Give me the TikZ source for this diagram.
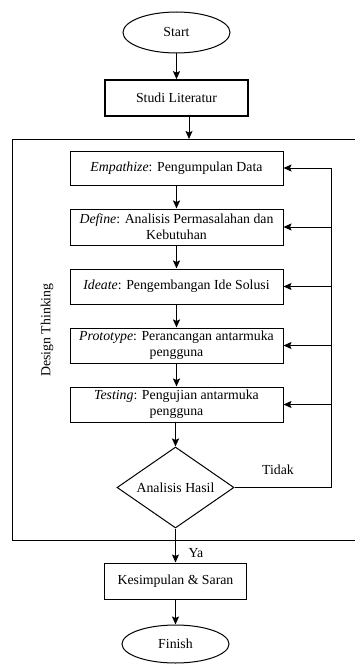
\documentclass[tikz,border=0pt]{standalone}
\usepackage{fontspec}
\setmainfont{Liberation Serif}
\usetikzlibrary{shapes.geometric, positioning, arrows.meta}
\tikzset{%
  node distance=24pt,
  every node/.style={
    font=\fontsize{13.8}{16}\selectfont},
  stepbox/.style={
    draw, rectangle, line width=1pt, align=center,
    minimum width=213pt, minimum height=35pt, inner sep=1pt},
  terminal/.style={
    draw, ellipse, line width=1pt,
    minimum width=107pt, minimum height=40pt, inner sep=0pt},
  decision/.style={
    draw, diamond, line width=1pt, shape aspect=1.45,
    minimum width=117pt, minimum height=81pt, inner sep=0pt},
  every edge/.style={
    draw,
    -{Stealth[length=8pt, width=7pt, inset=1.5pt]},
    line width=1pt}, %
  flow/.style={line width=1.8pt}
}

\begin{document}
\begin{tikzpicture}
    \useasboundingbox (0,0) rectangle (355pt,-666pt);

    \node[terminal, minimum height=41pt] (start) at (176.5pt,-32.5pt) {Start};
    \node[stepbox, minimum width=143pt, minimum height=36pt, line width=1.6pt] (studi) at (176.5pt,-98pt) {Studi Literatur};

    \node[stepbox, minimum height=34pt] (empathize) at (176.5pt,-168pt) {\textit{Empathize}: Pengumpulan Data};
    \node[stepbox, minimum height=36pt] (define) at (176.5pt,-227pt) {\textit{Define}: Analisis Permasalahan dan\\Kebutuhan};
    \node[stepbox] (ideate) at (176.5pt,-286.5pt) {\textit{Ideate}: Pengembangan Ide Solusi};
    \node[stepbox] (prototype) at (176.5pt,-345.5pt) {\textit{Prototype}: Perancangan antarmuka\\pengguna};
    \node[stepbox] (testing) at (176.5pt,-404.5pt) {\textit{Testing}: Pengujian antarmuka\\pengguna};
    \node[decision] (analisis) at (175.5pt,-487.5pt) {Analisis Hasil};

    \node[stepbox, minimum width=142pt, minimum height=36pt] (kesimpulan) at (175.5pt,-581pt) {Kesimpulan \& Saran};
    \node[terminal, minimum height=38pt] (finish) at (175.5pt,-644pt) {Finish};

    % Design Thinking frame
    \coordinate (frametop) at (189pt,-139pt);
    \draw[line width=1pt] (356pt,-139pt) -- (12pt,-139pt) -- (12pt,-540pt) -- (356pt,-540pt);
    \node[rotate=90] (dt) at (47pt,-330pt) {Design Thinking};

    \draw
      (start) edge [flow] (studi)
      (studi.south -| frametop) edge (frametop)
      (empathize) edge [flow] (define)
      (define) edge [flow] (ideate)
      (ideate) edge [flow] (prototype)
      (prototype) edge [flow] (testing)
      (testing.south -| analisis) edge [flow] (analisis)
      (analisis) edge (kesimpulan)
      (kesimpulan) edge [line width=1.4pt] (finish)
    ;

    % loop back
    \coordinate[right=48pt of empathize.east] (loop);
    \draw[line width=1pt] (analisis.east) -| (loop);
    \foreach \n in {empathize, define, ideate, prototype, testing}
      \draw (loop |- \n.east) edge (\n.east);

    \node (tidak) at (278pt,-470pt) {Tidak};
    \node (ya) at (196pt,-553pt) {Ya};

\end{tikzpicture}
\end{document}
